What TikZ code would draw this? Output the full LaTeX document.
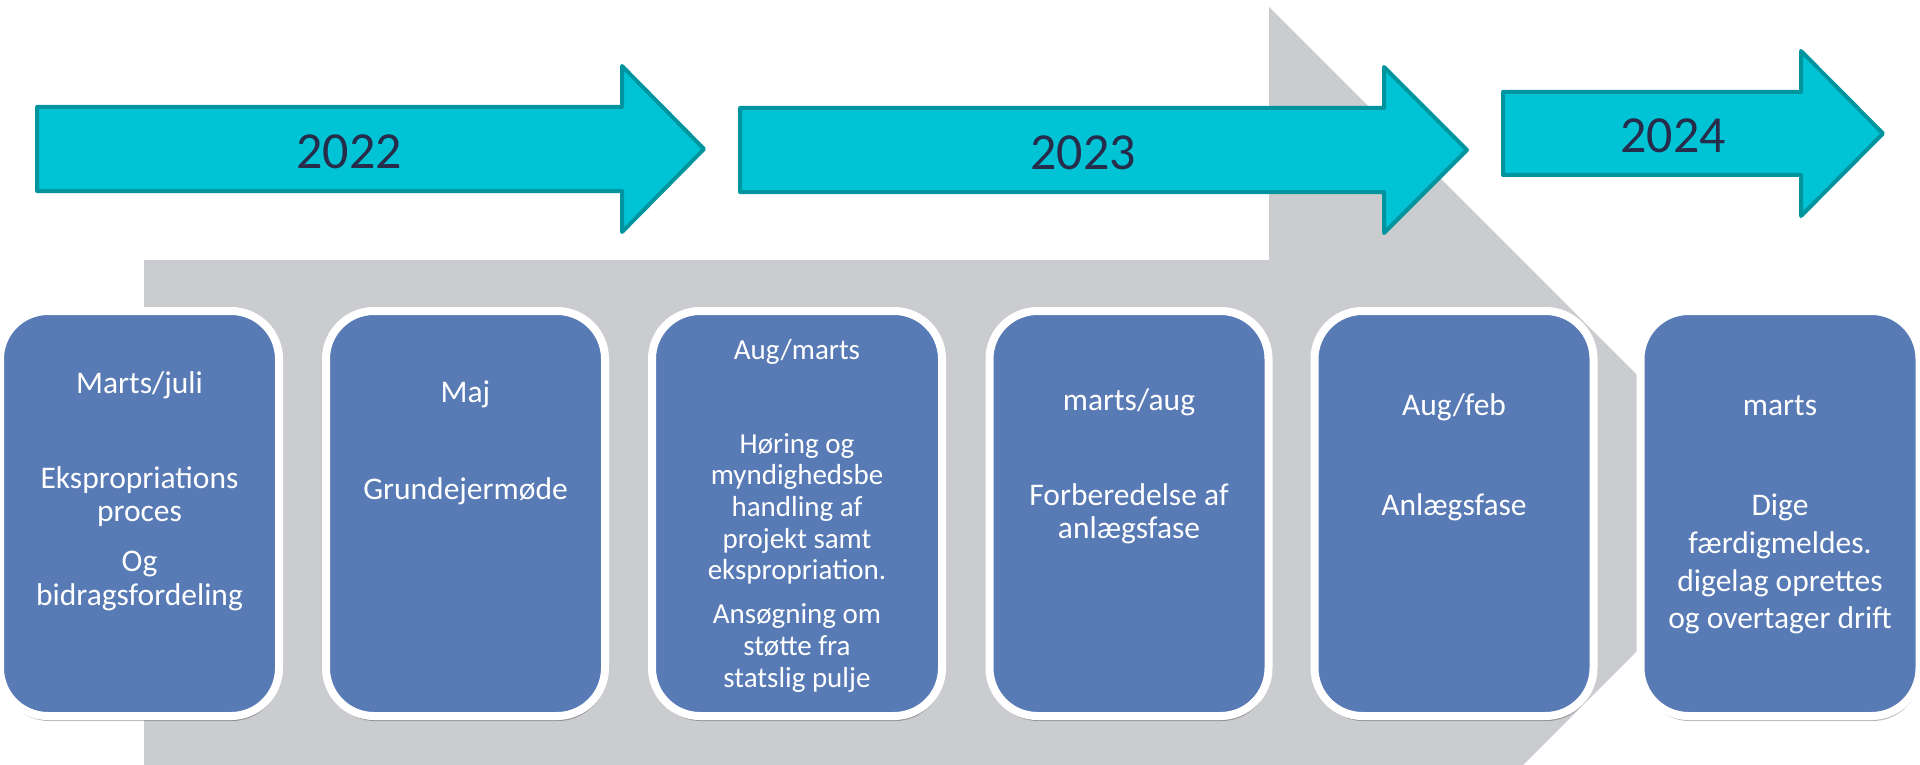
\documentclass[tikz,border=0pt]{standalone}
\usepackage{fontspec}
\setmainfont{Carlito}
\usetikzlibrary{shadows}
\definecolor{arrowfill}{RGB}{0,196,214}
\definecolor{arrowline}{RGB}{0,148,158}
\definecolor{yeartxt}{RGB}{38,44,74}
\definecolor{cardfill}{RGB}{88,122,181}
\definecolor{grayshape}{RGB}{203,204,208}
\begin{document}
\begin{tikzpicture}[x=1pt,y=-1pt,
  yeararrow/.style={fill=arrowfill, draw=arrowline, line width=4pt, line join=round},
  yeartext/.style={text=yeartxt, font=\fontsize{52}{60}\selectfont, anchor=base, inner sep=0pt},
  stepcard/.style={rectangle, fill=cardfill, draw=white, line width=8pt, rounded corners=48pt,
    minimum width=279pt, minimum height=405pt, inner sep=0pt,
    drop shadow={shadow xshift=1pt, shadow yshift=-5pt, fill=black, opacity=0.28}},
  cardtext/.style={text=white, font=\fontsize{31.5}{36}\selectfont, anchor=base, inner sep=0pt},
  cardsmall/.style={cardtext, font=\fontsize{29}{33}\selectfont},
]
\useasboundingbox (0,0) rectangle (1920,765);
\fill[white] (0,0) rectangle (1920,765);
% grey background arrow
\fill[grayshape] (144,260) -- (1269,260) -- (1269,7) -- (1775,513) -- (1523,765) -- (144,765) -- cycle;
% year arrows
\draw[yeararrow] (37,107) -- (622,107) -- (622,66) -- (704,149) -- (622,232) -- (622,191) -- (37,191) -- cycle;
\draw[yeararrow] (740,108) -- (1384,108) -- (1384,67) -- (1467,150) -- (1384,233) -- (1384,192) -- (740,192) -- cycle;
\draw[yeararrow] (1503,92) -- (1801,92) -- (1801,51) -- (1883,133.5) -- (1801,216) -- (1801,175) -- (1503,175) -- cycle;
\node[yeartext] (y22) at (349,168) {2022};
\node[yeartext] (y23) at (1083,170) {2023};
\node[yeartext] (y24) at (1673,153) {2024};
% cards
\node[stepcard] (c1) at (139.5,513.5) {};
\node[stepcard] (c2) at (465.5,513.5) {};
\node[stepcard, minimum width=290pt] (c3) at (797,513.5) {};
\node[stepcard] (c4) at (1129,513.5) {};
\node[stepcard] (c5) at (1454,513.5) {};
\node[stepcard] (c6) at (1780,513.5) {};
% card 1
\node[cardtext] (t1a) at (139.5,393) {Marts/juli};
\node[cardtext] (t1b) at (139.5,488) {Ekspropriations};
\node[cardtext] (t1c) at (139.5,521) {proces};
\node[cardtext] (t1d) at (139.5,571) {Og};
\node[cardtext] (t1e) at (139.5,605) {bidragsfordeling};
% card 2
\node[cardtext] (t2a) at (465.5,402) {Maj};
\node[cardtext] (t2b) at (465.5,499) {Grundejermøde};
% card 3
\node[cardsmall] (t3a) at (797,359) {Aug/marts};
\node[cardsmall] (t3b) at (797,453) {Høring og};
\node[cardsmall] (t3c) at (797,484) {myndighedsbe};
\node[cardsmall] (t3d) at (797,516) {handling af};
\node[cardsmall] (t3e) at (797,548) {projekt samt};
\node[cardsmall] (t3f) at (797,579) {ekspropriation.};
\node[cardsmall] (t3g) at (797,623) {Ansøgning om};
\node[cardsmall] (t3h) at (797,655) {støtte fra};
\node[cardsmall] (t3i) at (797,687) {statslig pulje};
% card 4
\node[cardtext] (t4a) at (1129,410) {marts/aug};
\node[cardtext] (t4b) at (1129,505) {Forberedelse af};
\node[cardtext] (t4c) at (1129,538) {anlægsfase};
% card 5
\node[cardtext] (t5a) at (1454,415) {Aug/feb};
\node[cardtext] (t5b) at (1454,515) {Anlægsfase};
% card 6
\node[cardtext] (t6a) at (1780,415) {marts};
\node[cardtext] (t6b) at (1780,515) {Dige};
\node[cardtext] (t6c) at (1780,553) {færdigmeldes.};
\node[cardtext] (t6d) at (1780,591) {digelag oprettes};
\node[cardtext] (t6e) at (1780,628) {og overtager drift};
\end{tikzpicture}
\end{document}
